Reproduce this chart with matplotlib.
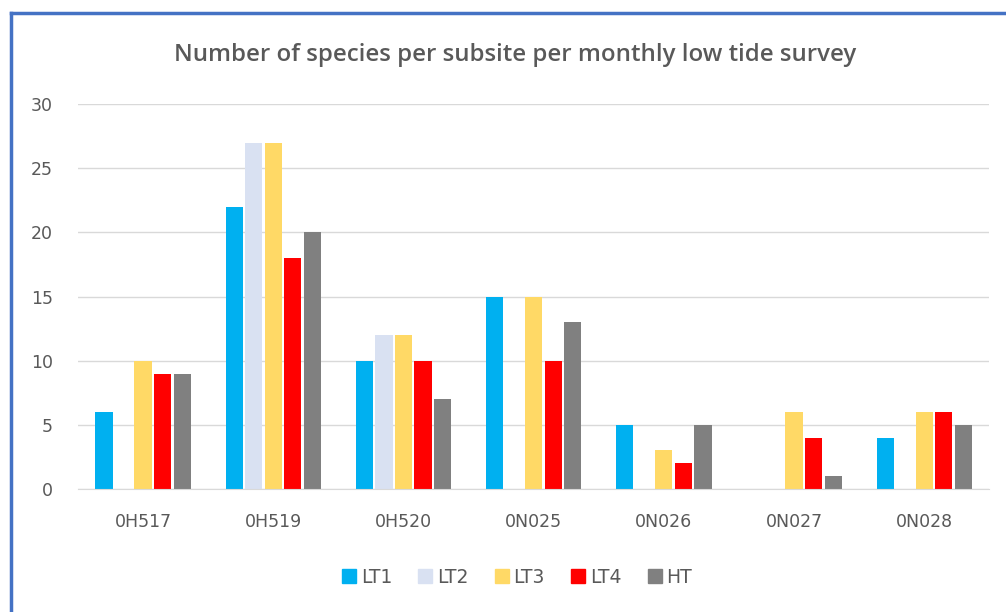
import numpy as np
import matplotlib.pyplot as plt
from matplotlib.patches import Rectangle
from matplotlib.lines import Line2D

sites = ['0H517', '0H519', '0H520', '0N025', '0N026', '0N027', '0N028']
series = ['LT1', 'LT2', 'LT3', 'LT4', 'HT']
lt1 = [6, 22, 10, 15, 5, 0, 4]
lt2 = [0, 27, 12, 0, 0, 0, 0]
lt3 = [10, 27, 12, 15, 3, 6, 6]
lt4 = [9, 18, 10, 10, 2, 4, 6]
ht = [9, 20, 7, 13, 5, 1, 5]
colors = ['#00B0F0', '#D9E1F2', '#FFD966', '#FF0000', '#808080']

plt.rcParams['font.family'] = ['DejaVu Sans']

fig = plt.figure(figsize=(10.06, 6.12), dpi=100)
ax = fig.add_axes([0.0775, 0.201, 0.906, 0.629])

x = np.arange(len(sites))
pitch = 0.15
width = 0.132
for i, (name, vals) in enumerate(zip(series, [lt1, lt2, lt3, lt4, ht])):
    ax.bar(x + (i - 2) * pitch, vals, width, color=colors[i], label=name, zorder=2)

ax.set_xlim(-0.5, len(sites) - 0.5)
ax.set_ylim(0, 30)
ax.set_yticks(range(0, 31, 5))
ax.set_xticks(x)
ax.set_xticklabels(sites)
ax.grid(axis='y', color='#D9D9D9', linewidth=1, zorder=0)
for s in ['top', 'right', 'left']:
    ax.spines[s].set_visible(False)
ax.spines['bottom'].set_color('#D9D9D9')
ax.tick_params(axis='both', length=0, colors='#595959', labelsize=12.5)
ax.tick_params(axis='x', pad=17)
ax.tick_params(axis='y', pad=18)

fig.text(0.512, 0.91, 'Number of species per subsite per monthly low tide survey',
         ha='center', va='center', fontsize=17.3, color='#595959',
         family=['Open Sans', 'DejaVu Sans'], weight='semibold')

handles = [Rectangle((0, 0), 1, 1, color=c) for c in colors]
fig.legend(handles, series, loc='center', bbox_to_anchor=(0.514, 0.057), ncol=5,
           frameon=False, fontsize=13.5, handlelength=0.75, handleheight=0.75,
           handletextpad=0.25, columnspacing=1.4, labelcolor='#595959')

# blue frame around the chart
fig.add_artist(Line2D([10.5 / 1006, 10.5 / 1006], [0, 1 - 13 / 612], color='#4472C4', lw=2.5))
fig.add_artist(Line2D([10.5 / 1006, 1], [1 - 13 / 612, 1 - 13 / 612], color='#4472C4', lw=2.5))

fig.savefig('out.png', dpi=100)
